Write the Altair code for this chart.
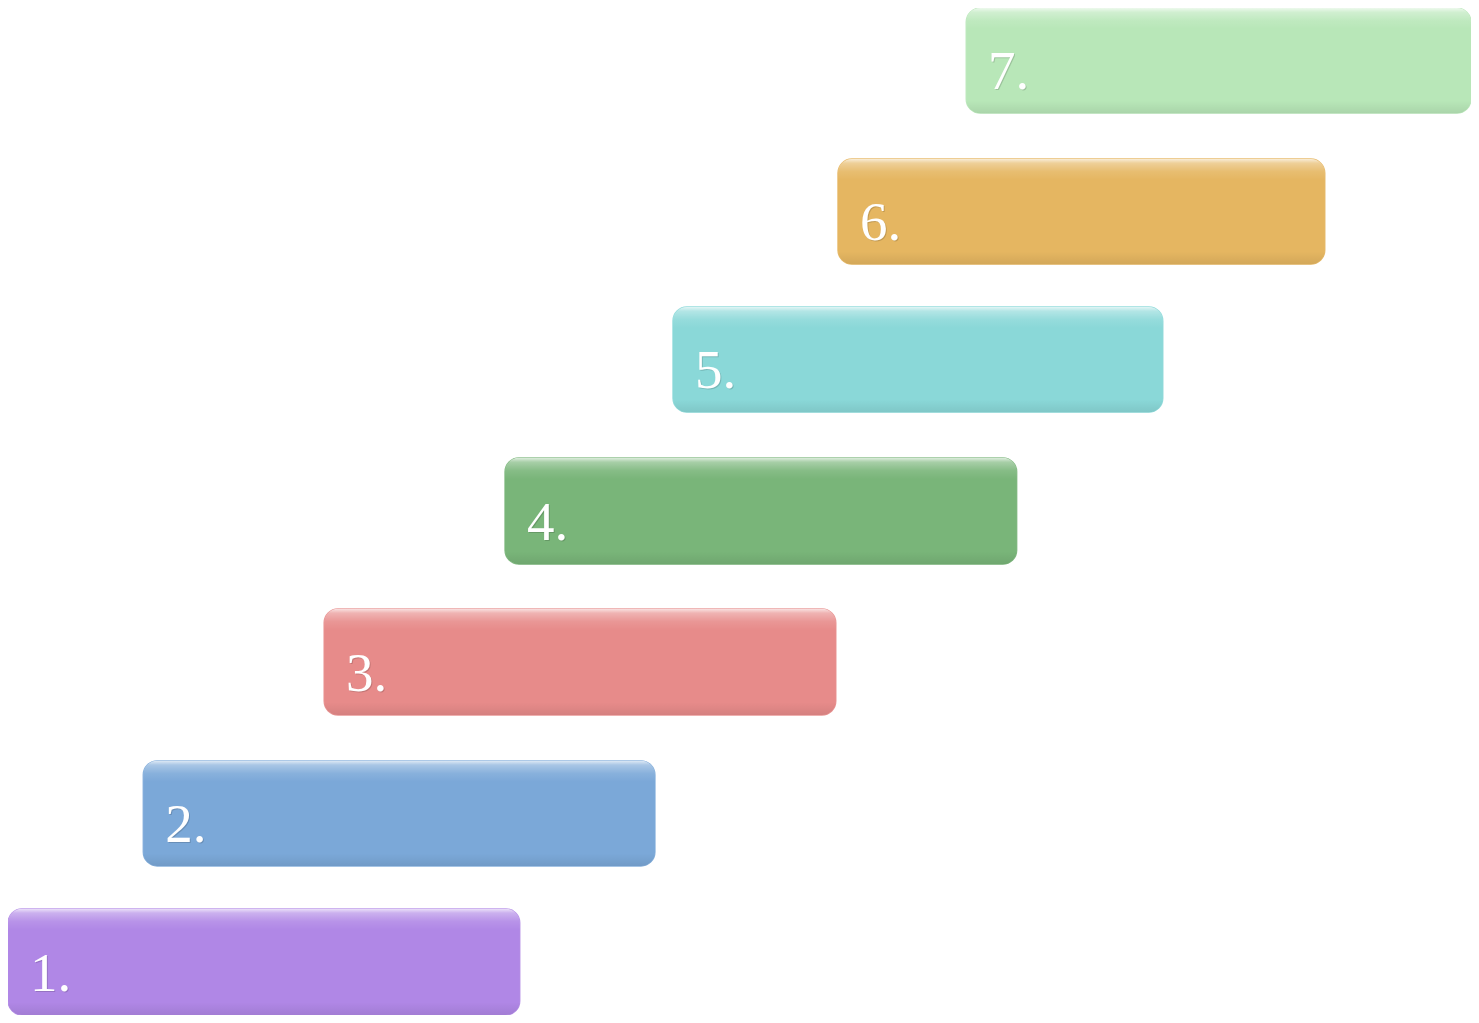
import altair as alt
import pandas as pd

labels = ["1.", "2.", "3.", "4.", "5.", "6.", "7."]
x_start = [3, 139, 321, 503, 672, 838, 967]
x_end = [518, 654, 836, 1018, 1165, 1328, 1475]
y_top = [911, 762, 609, 457, 305, 156, 4]
y_bottom = [1018, 868, 716, 564, 411, 262, 110]
colors = ["#B087E6", "#7BA8D8", "#E78B8A", "#79B579", "#8AD8D8", "#E5B661", "#B8E7B8"]

df = pd.DataFrame({
    "label": labels,
    "x0": x_start,
    "x1": x_end,
    "y0": y_top,
    "y1": y_bottom,
})

xs = alt.Scale(domain=[3, 1475], nice=False, zero=False)
ys = alt.Scale(domain=[1018, 4], nice=False, zero=False)
cs = alt.Scale(domain=labels, range=colors)

base = alt.Chart(df).encode(
    x=alt.X("x0:Q", scale=xs, axis=None),
    x2="x1:Q",
    y=alt.Y("y0:Q", scale=ys, axis=None),
    y2="y1:Q",
)

shadow1 = base.mark_rect(cornerRadius=15, color="#000000", opacity=0.07, xOffset=3, yOffset=5)
shadow2 = base.mark_rect(cornerRadius=15, color="#000000", opacity=0.09, xOffset=1, yOffset=3)

body = base.mark_rect(cornerRadius=14, strokeWidth=1.2, strokeOpacity=0.9).encode(
    fill=alt.Fill("label:N", scale=cs, legend=None),
    stroke=alt.Stroke("label:N", scale=cs, legend=None),
)

gloss = base.mark_rect(
    cornerRadius=14,
    color=alt.Gradient(
        gradient="linear",
        x1=0, x2=0, y1=0, y2=1,
        stops=[
            alt.GradientStop(color="rgba(255,255,255,0.75)", offset=0),
            alt.GradientStop(color="rgba(255,255,255,0.35)", offset=0.04),
            alt.GradientStop(color="rgba(255,255,255,0.10)", offset=0.12),
            alt.GradientStop(color="rgba(255,255,255,0)", offset=0.2),
            alt.GradientStop(color="rgba(0,0,0,0)", offset=0.88),
            alt.GradientStop(color="rgba(0,0,0,0.08)", offset=1),
        ],
    ),
)

tbase = alt.Chart(df).encode(
    x=alt.X("x0:Q", scale=xs, axis=None),
    y=alt.Y("y1:Q", scale=ys, axis=None),
    text="label:N",
)

text_shadow = tbase.mark_text(
    align="left", baseline="alphabetic", font="Liberation Serif", fontSize=55,
    dx=23, dy=-23, color="#000000", opacity=0.15,
)
text = tbase.mark_text(
    align="left", baseline="alphabetic", font="Liberation Serif", fontSize=55,
    dx=22, dy=-24, color="#FFFFFF",
)

chart = alt.layer(shadow1, shadow2, body, gloss, text_shadow, text).properties(
    width=1463, height=1007, padding=0, autosize=alt.AutoSizeParams(type="none"),
    background="#FFFFFF",
).configure_view(stroke=None)

chart.save("out.html", embed_options={"renderer": "svg", "actions": False})
